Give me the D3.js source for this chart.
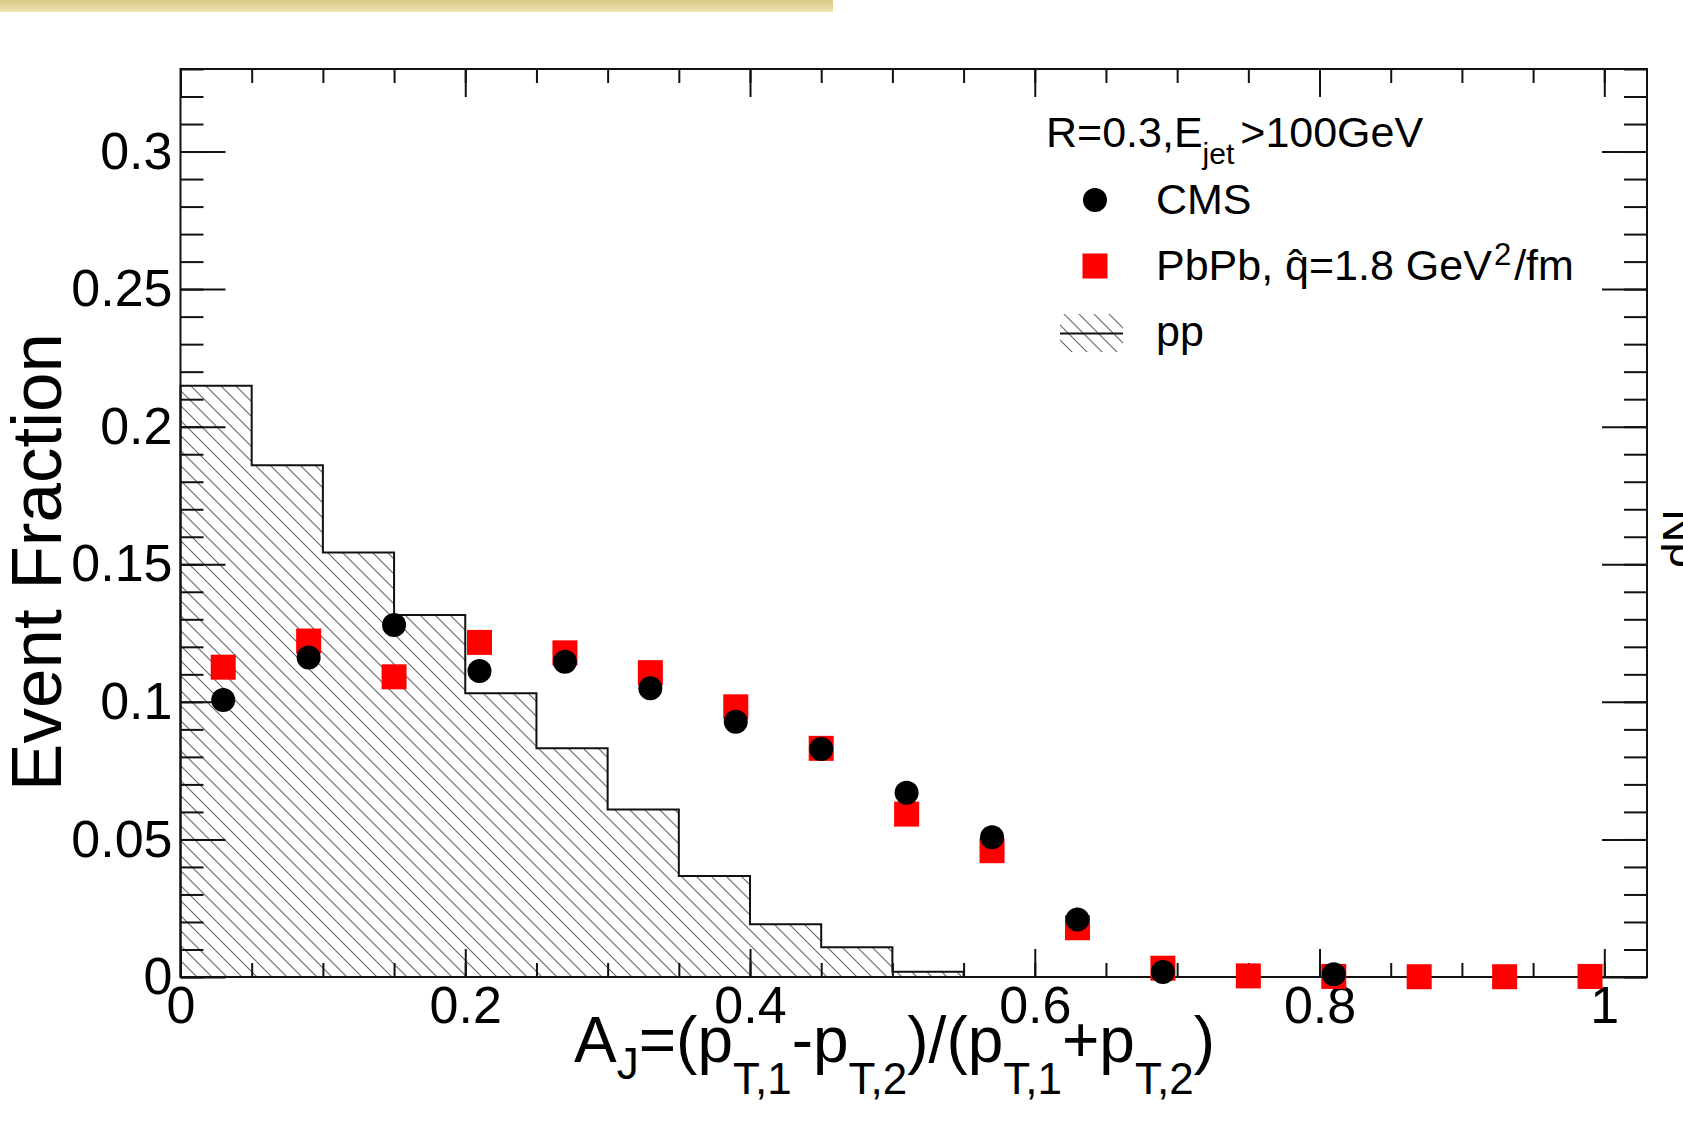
<!DOCTYPE html>
<html>
<head>
<meta charset="utf-8">
<script src="https://cdn.jsdelivr.net/npm/d3@7"></script>
<style>
  body { margin: 0; background: #fff; }
  svg { display: block; }
  text { font-family: "Liberation Sans", Arial, Helvetica, sans-serif; fill: #000; }
</style>
</head>
<body>
<svg id="chart" width="1683" height="1126"></svg>
<script>
// ---------------- data ----------------
const aJ = [0.03, 0.09, 0.15, 0.21, 0.27, 0.33, 0.39, 0.45, 0.51, 0.57, 0.63, 0.69, 0.75, 0.81, 0.87, 0.93, 0.99];
const cmsValues = [0.1007, 0.1161, 0.1279, 0.1112, 0.1146, 0.1049, 0.0928, 0.0829, 0.0670, 0.0508, 0.0209, 0.0018, null, 0.0010, null, null, null];
const pbpbValues = [0.1126, 0.1221, 0.1091, 0.1216, 0.1178, 0.1106, 0.0982, 0.0831, 0.0592, 0.0459, 0.0179, 0.0032, 0.0004, 0.0002, 0.0001, 0.0001, 0.0002];
const ppBinEdges = [0, 0.05, 0.10, 0.15, 0.20, 0.25, 0.30, 0.35, 0.40, 0.45, 0.50, 0.55];
const ppValues = [0.2149, 0.1860, 0.1543, 0.1316, 0.1031, 0.0831, 0.0609, 0.0367, 0.0192, 0.0108, 0.0019];
const xTickValues = [0, 0.2, 0.4, 0.6, 0.8, 1];
const xTickLabels = ["0", "0.2", "0.4", "0.6", "0.8", "1"];
const yTickValues = [0, 0.05, 0.10, 0.15, 0.20, 0.25, 0.30];
const yTickLabels = ["0", "0.05", "0.1", "0.15", "0.2", "0.25", "0.3"];
const legendTitle = { main: "R=0.3,E", sub: "jet", tail: ">100GeV" };
const legendLabels = ["CMS", "PbPb, ", "pp"];

// ---------------- layout ----------------
const L = 180.5, R = 1647, T = 69, B = 977;
const svg = d3.select("#chart");
const x = d3.scaleLinear().domain([0, 1.03]).range([L, R]);
const y = d3.scaleLinear().domain([0, 0.33]).range([B, T]);

// top-left beige bar
const defs = svg.append("defs");
const grad = defs.append("linearGradient").attr("id", "beige").attr("x1", 0).attr("y1", 0).attr("x2", 0).attr("y2", 1);
grad.append("stop").attr("offset", "0%").attr("stop-color", "#dccb84");
grad.append("stop").attr("offset", "100%").attr("stop-color", "#ebe1b3");
svg.append("rect").attr("x", 0).attr("y", 0).attr("width", 833).attr("height", 12).attr("fill", "url(#beige)");

// hatch pattern (ROOT 3005 style)
const HS = 15;
const pat = defs.append("pattern").attr("id", "hatch").attr("patternUnits", "userSpaceOnUse")
  .attr("width", HS).attr("height", HS);
pat.append("path").attr("d", `M-1,-1 L${HS + 1},${HS + 1} M-1,${HS - 1} L1,${HS + 1} M${HS - 1},-1 L${HS + 1},1`)
  .attr("stroke", "#666").attr("stroke-width", 1.1).attr("fill", "none");

// pp histogram
const histPts = [[x(ppBinEdges[0]), y(0)]];
ppValues.forEach((v, i) => {
  histPts.push([x(ppBinEdges[i]), y(v)]);
  histPts.push([x(ppBinEdges[i + 1]), y(v)]);
});
histPts.push([x(ppBinEdges[ppBinEdges.length - 1]), y(0)]);
const line = d3.line();
svg.append("path").attr("d", line(histPts) + "Z").attr("fill", "url(#hatch)").attr("stroke", "none");
svg.append("path").attr("d", line(histPts)).attr("fill", "none").attr("stroke", "#111").attr("stroke-width", 2);

// ---------------- axes ----------------
function styleAxis(g) {
  g.select(".domain").remove();
  g.selectAll(".tick line").attr("stroke", "#111").attr("stroke-width", 2);
  g.selectAll(".tick text").attr("font-size", 52).attr("fill", "#000")
    .style("font-family", '"Liberation Sans", Arial, sans-serif');
}
const xMinor = x.ticks(20).filter(v => v <= 1.03);
const yMinor = y.ticks(33);

// bottom
svg.append("g").attr("transform", `translate(0,${B})`)
  .call(d3.axisBottom(x).tickValues(xMinor).tickSize(-14).tickFormat(""))
  .call(styleAxis);
svg.append("g").attr("transform", `translate(0,${B})`)
  .call(d3.axisBottom(x).tickValues(xTickValues).tickSize(-28).tickPadding(9)
    .tickFormat((d, i) => xTickLabels[i]))
  .call(styleAxis);
// top
svg.append("g").attr("transform", `translate(0,${T})`)
  .call(d3.axisTop(x).tickValues(xMinor).tickSize(-14).tickFormat(""))
  .call(styleAxis);
svg.append("g").attr("transform", `translate(0,${T})`)
  .call(d3.axisTop(x).tickValues(xTickValues).tickSize(-28).tickFormat(""))
  .call(styleAxis);
// left
svg.append("g").attr("transform", `translate(${L},0)`)
  .call(d3.axisLeft(y).tickValues(yMinor).tickSize(-23).tickFormat(""))
  .call(styleAxis);
svg.append("g").attr("transform", `translate(${L},0)`)
  .call(d3.axisLeft(y).tickValues(yTickValues).tickSize(-45).tickPadding(8)
    .tickFormat((d, i) => yTickLabels[i]))
  .call(styleAxis);
// right
svg.append("g").attr("transform", `translate(${R},0)`)
  .call(d3.axisRight(y).tickValues(yMinor).tickSize(-23).tickFormat(""))
  .call(styleAxis);
svg.append("g").attr("transform", `translate(${R},0)`)
  .call(d3.axisRight(y).tickValues(yTickValues).tickSize(-45).tickFormat(""))
  .call(styleAxis);

// frame
svg.append("rect").attr("x", L).attr("y", T).attr("width", R - L).attr("height", B - T)
  .attr("fill", "none").attr("stroke", "#111").attr("stroke-width", 2);

// ---------------- markers ----------------
const SQ = 25;
svg.append("g").selectAll("rect").data(aJ.map((a, i) => [a, pbpbValues[i]]).filter(d => d[1] != null))
  .join("rect")
  .attr("x", d => x(d[0]) - SQ / 2).attr("y", d => y(d[1]) - SQ / 2)
  .attr("width", SQ).attr("height", SQ).attr("fill", "#ff0000");
svg.append("g").selectAll("circle").data(aJ.map((a, i) => [a, cmsValues[i]]).filter(d => d[1] != null))
  .join("circle")
  .attr("cx", d => x(d[0])).attr("cy", d => y(d[1])).attr("r", 12).attr("fill", "#000");

// ---------------- titles ----------------
svg.append("text").attr("transform", "translate(61,562) rotate(-90)")
  .attr("text-anchor", "middle").attr("font-size", 71).text("Event Fraction");

const xt = svg.append("text").attr("x", 574).attr("y", 1062).attr("font-size", 64);
const parts = [
  ["A", 0], ["J", 1, 17], ["=(p", 0], ["T,1", 1, 32], ["-p", 0], ["T,2", 1, 32],
  [")/(p", 0], ["T,1", 1, 32], ["+p", 0], ["T,2", 1, 32], [")", 0]
];
let cur = 0;
parts.forEach(p => {
  const isSub = p[1] === 1;
  const off = isSub ? p[2] : 0;
  xt.append("tspan").attr("font-size", isSub ? 44 : 64).attr("dy", off - cur).text(p[0]);
  cur = off;
});

// ---------------- legend ----------------
const lt = svg.append("text").attr("x", 1046).attr("y", 147).attr("font-size", 43);
lt.append("tspan").text(legendTitle.main);
lt.append("tspan").attr("font-size", 30).attr("dy", 17).text(legendTitle.sub);
lt.append("tspan").attr("dy", -17).attr("dx", 6).text(legendTitle.tail);

svg.append("circle").attr("cx", 1095).attr("cy", 200).attr("r", 12).attr("fill", "#000");
svg.append("text").attr("x", 1156).attr("y", 214).attr("font-size", 43).text(legendLabels[0]);

svg.append("rect").attr("x", 1095 - SQ / 2).attr("y", 266 - SQ / 2).attr("width", SQ).attr("height", SQ).attr("fill", "#ff0000");
const pt = svg.append("text").attr("x", 1156).attr("y", 280).attr("font-size", 43);
pt.append("tspan").text(legendLabels[1]);
pt.append("tspan").text("q\u0302=1.8 GeV");
pt.append("tspan").attr("font-size", 31).attr("dy", -15).attr("dx", 2).text("2");
pt.append("tspan").attr("dy", 15).attr("dx", 3).text("/fm");

svg.append("rect").attr("x", 1060).attr("y", 314).attr("width", 63).attr("height", 38).attr("fill", "url(#hatch)");
svg.append("line").attr("x1", 1060).attr("x2", 1123).attr("y1", 333.5).attr("y2", 333.5)
  .attr("stroke", "#111").attr("stroke-width", 2);
svg.append("text").attr("x", 1156).attr("y", 346).attr("font-size", 43).text(legendLabels[2]);

// cut-off neighbouring axis title
svg.append("text").attr("transform", "translate(1695,568) rotate(-90)")
  .attr("font-size", 46).text("dN");
</script>
</body>
</html>
